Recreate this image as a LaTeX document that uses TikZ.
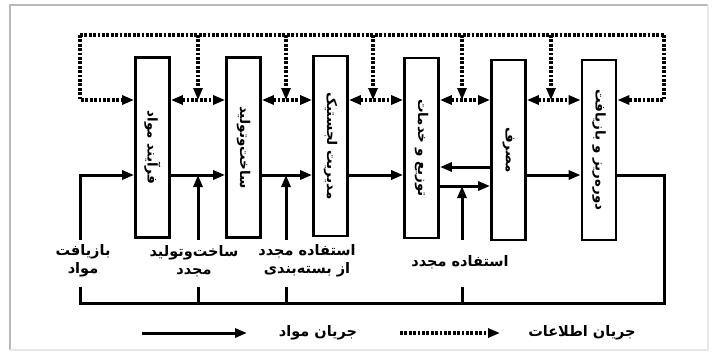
\documentclass[tikz,border=0pt]{standalone}
\usepackage{fontspec}
\usepackage{graphicx}
\usetikzlibrary{arrows.meta}
\TeXXeTstate=1
\newfontfamily\arabicfont[Script=Arabic]{DejaVu Sans}
\newcommand{\fa}[1]{{\arabicfont\beginR #1\endR}}
\tikzset{
  procbox/.style={draw=black, line width=2.8pt, minimum width=34pt, minimum height=180pt, inner sep=0pt, font=\bfseries\fontsize{13.5}{15}\selectfont},
  mat/.style={line width=3pt, -{Triangle[length=12pt,width=9pt]}},
  matline/.style={line width=3pt},
  info/.style={line width=3.4pt, dash pattern=on 2.8pt off 1.6pt},
  infotip/.style={-{Triangle[length=12pt,width=9pt]}},
  infoboth/.style={{Triangle[length=12pt,width=9pt]}-{Triangle[length=12pt,width=9pt]}},
  lab/.style={align=center, inner sep=0pt, font=\bfseries\fontsize{14.5}{18}\selectfont}
}
\begin{document}
\begin{tikzpicture}[x=1pt,y=-1pt]
\useasboundingbox (0,0) rectangle (718,354);
% frame
\draw[gray!55, line width=1.8pt] (10,350) -- (10,5) -- (708,5);
\draw[gray!18, line width=1.2pt] (708,5) -- (708,350) -- (10,350);

% boxes
\node[procbox] (b1) at (152.5,147.5) {\rotatebox{-90}{\fa{فرآیند مواد}}};
\node[procbox] (b2) at (243.5,147.5) {\rotatebox{-90}{\fa{ساخت‌وتولید}}};
\node[procbox] (b3) at (330.5,146) {\rotatebox{-90}{\fa{مدیریت لجستیک}}};
\node[procbox] (b4) at (421.5,148) {\rotatebox{-90}{\fa{توزیع و خدمات}}};
\node[procbox] (b5) at (508.5,150) {\rotatebox{-90}{\fa{مصرف}}};
\node[procbox] (b6) at (599,150) {\rotatebox{-90}{\fa{دوره‌ریز و بازیافت}}};

% level coordinates
\coordinate (TL) at (80,35);  \coordinate (TR) at (664,35);
\coordinate (IL) at (80,100); \coordinate (IR) at (664,100);
\coordinate (ML) at (80,175); \coordinate (MR) at (664,175);
\coordinate (BL) at (80,303); \coordinate (BR) at (664,303);
\coordinate (UA) at (0,240);  \coordinate (SB) at (0,287);
\coordinate (Yup) at (0,167); \coordinate (Ylo) at (0,186);
% junction columns
\coordinate (j1) at (198,35);
\coordinate (j2) at (286,35);
\coordinate (j3) at (373,35);
\coordinate (j4) at (462,35);
\coordinate (j5) at (551,35);

% information flow
\draw[info] (TL) -- (TR);
\draw[info,infotip] (TL) -- (IL) -- (b1.west |- IL);
\draw[info,infotip] (TR) -- (IR) -- (b6.east |- IR);
\draw[info,infoboth] (b1.east |- IL) -- (b2.west |- IL);
\draw[info,infoboth] (b2.east |- IL) -- (b3.west |- IL);
\draw[info,infoboth] (b3.east |- IL) -- (b4.west |- IL);
\draw[info,infoboth] (b4.east |- IL) -- (b5.west |- IL);
\draw[info,infoboth] (b5.east |- IL) -- (b6.west |- IL);
\foreach \j in {j1,j2,j3,j4,j5}
  \draw[info,infotip] (\j) -- (\j |- IL);

% labels
\node[lab] (l1) at (83,261) {\fa{بازیافت}\\\fa{مواد}};
\node[lab] (l2) at (194,261) {\fa{ساخت‌وتولید}\\\fa{مجدد}};
\node[lab] (l3) at (307,261) {\fa{استفاده مجدد}\\\fa{از بسته‌بندی}};
\node[lab] (l4) at (460,262) {\fa{استفاده مجدد}};

% material flow
\draw[mat] (UA -| ML) -- (ML) -- (b1.west |- ML);
\draw[matline] (SB -| BL) -- (BL) -- (BR) -- (MR) -- (b6.east |- MR);
\draw[mat] (b1.east |- ML) -- (b2.west |- ML);
\draw[mat] (b2.east |- ML) -- (b3.west |- ML);
\draw[mat] (b3.east |- ML) -- (b4.west |- ML);
\draw[mat] (b5.east |- ML) -- (b6.west |- ML);
\draw[mat] (b5.west |- Yup) -- (b4.east |- Yup);
\draw[mat] (b4.east |- Ylo) -- (b5.west |- Ylo);
\draw[mat] (UA -| j1) -- (ML -| j1);
\draw[mat] (UA -| j2) -- (ML -| j2);
\draw[mat] (UA -| j4) -- (Ylo -| j4);
\draw[matline] (SB -| j1) -- (BL -| j1);
\draw[matline] (SB -| j2) -- (BL -| j2);
\draw[matline] (SB -| j4) -- (BL -| j4);

% legend
\coordinate (ls1) at (142,333); \coordinate (le1) at (247,333);
\coordinate (ls2) at (400,333); \coordinate (le2) at (500,333);
\draw[mat] (ls1) -- (le1);
\node[lab] (t1) at (318,333) {\fa{جریان مواد}};
\draw[info,infotip] (ls2) -- (le2);
\node[lab] (t2) at (582,333) {\fa{جریان اطلاعات}};
\end{tikzpicture}
\end{document}
